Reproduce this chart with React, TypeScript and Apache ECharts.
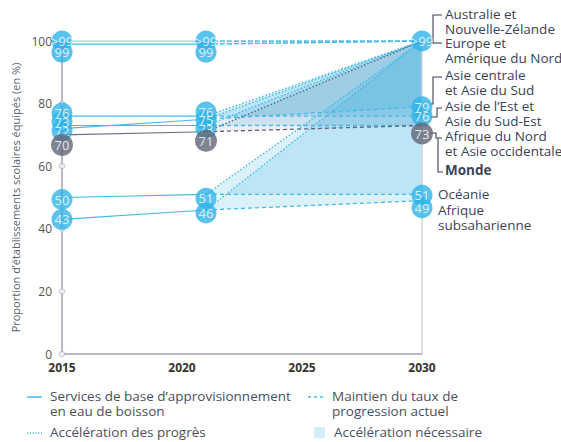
import React, { useEffect, useRef } from "react";
import * as echarts from "echarts";

const regions = [
  "Australie et Nouvelle-Zélande",
  "Europe et Amérique du Nord",
  "Asie centrale et Asie du Sud",
  "Asie de l'Est et Asie du Sud-Est",
  "Afrique du Nord et Asie occidentale",
  "Monde",
  "Océanie",
  "Afrique subsaharienne",
];
const yearStart = 2015;
const yearLatest = 2021;
const yearTarget = 2030;
const values2015 = [100, 99, 72, 76, 73, 70, 50, 43];
const values2021 = [100, 99, 75, 76, 73, 71, 51, 46];
const values2030Trend = [100, 100, 79, 76, 73, 73, 51, 49];
const target2030 = 100;
const labels2015 = [">99", "99", "72", "76", "73", "70", "50", "43"];
const labels2021 = [">99", "99", "75", "76", "73", "71", "51", "46"];
const labels2030 = [">99", "", "79", "76", "", "73", "51", "49"];
const isWorld = [false, false, false, false, false, true, false, false];
const xTicks = [2015, 2020, 2025, 2030];
const yTicks = [0, 20, 40, 60, 80];

// bubble nudges (pixels) to separate crowded bubbles, as in the original
const nudge2015 = [0, 8, 2, -3, -4, 10, 2, 0];
const nudge2021 = [0, 8, 1, -4, 3, 9, 4, 3];
const nudge2030 = [0, 0, 0, 0, 0, 8, 1, 7];

const BLUE = "#2fb3e8";
const LINE_BLUE = "#45b9e8";
const GRAY = "#5f6577";
const AXIS = "#b9b6c9";
const TEXT = "#3b4256";
const FONT = "'Open Sans', sans-serif";

export default function App() {
  const ref = useRef<HTMLDivElement>(null);
  useEffect(() => {
    const chart = echarts.init(ref.current!, null, { renderer: "svg" });
    const series: any[] = [];

    series.push({
      type: "custom",
      z: 1,
      silent: true,
      encode: { x: 0, y: 1 },
      data: regions.map((_, i) => [yearLatest, values2021[i], values2030Trend[i], i]),
      renderItem: (params: any, api: any) => {
        const i = api.value(3);
        const p1 = api.coord([yearLatest, api.value(1)]);
        const p2 = api.coord([yearTarget, api.value(2)]);
        const p3 = api.coord([yearTarget, target2030]);
        return {
          type: "polygon",
          shape: { points: [p1, p2, p3] },
          style: {
            fill: isWorld[i] ? "rgba(120,125,145,0.13)" : "rgba(41,171,226,0.17)",
          },
        };
      },
    });

    regions.forEach((name, i) => {
      const c = isWorld[i] ? GRAY : LINE_BLUE;
      series.push({
        type: "line",
        name: name + " actual",
        data: [
          [yearStart, values2015[i]],
          [yearLatest, values2021[i]],
        ],
        symbol: "none",
        z: isWorld[i] ? 4 : 3,
        lineStyle: { color: isWorld[i] ? "#6b7183" : LINE_BLUE, width: 1.2 },
        silent: true,
      });
      series.push({
        type: "line",
        name: name + " trend",
        data: [
          [yearLatest, values2021[i]],
          [yearTarget, values2030Trend[i]],
        ],
        symbol: "none",
        z: 3,
        lineStyle: { color: c, width: 1.3, type: [4, 3] },
        silent: true,
      });
      series.push({
        type: "line",
        name: name + " accel",
        data: [
          [yearLatest, values2021[i]],
          [yearTarget, target2030],
        ],
        symbol: "none",
        z: 3,
        lineStyle: { color: c, width: 1.4, type: [1.5, 2] },
        silent: true,
      });
    });

    const bubbleItems = (world: boolean) => {
      const out: any[] = [];
      regions.forEach((_, i) => {
        if (isWorld[i] !== world) return;
        const sets: [number, number, string, number][] = [
          [yearStart, values2015[i], labels2015[i], nudge2015[i]],
          [yearLatest, values2021[i], labels2021[i], nudge2021[i]],
          [yearTarget, values2030Trend[i], labels2030[i], nudge2030[i]],
        ];
        sets.forEach(([x, v, lab, n]) => {
          if (!lab) return;
          out.push({
            value: [x, v],
            symbolOffset: [0, n],
            label: { formatter: lab },
          });
        });
      });
      return out;
    };

    const bubbleLabel = {
      show: true,
      position: "inside",
      color: "#fff",
      fontSize: 13,
      fontFamily: FONT,
    };
    series.push({
      type: "scatter",
      z: 10,
      symbol: "circle",
      symbolSize: 21,
      itemStyle: { color: BLUE },
      label: bubbleLabel,
      data: bubbleItems(false),
      silent: true,
    });
    series.push({
      type: "scatter",
      z: 11,
      symbol: "circle",
      symbolSize: 22,
      itemStyle: { color: GRAY },
      label: bubbleLabel,
      data: bubbleItems(true),
      silent: true,
    });

    series.push({
      type: "scatter",
      z: 5,
      symbol: "circle",
      symbolSize: 5,
      itemStyle: { color: "#fff", borderColor: AXIS, borderWidth: 1.2 },
      data: yTicks.map((t) => [yearStart, t]),
      silent: true,
      markLine: {
        silent: true,
        symbol: "none",
        label: { show: false },
        lineStyle: { color: "#d3d3dc", width: 1.5, type: "solid" },
        data: [{ xAxis: yearTarget }],
      },
    });

    const lbl = (x: number, y: number, text: string, bold = false) => ({
      type: "text",
      x,
      y,
      style: {
        text,
        fill: TEXT,
        font: `${bold ? "bold " : ""}13.5px ${FONT}`,
        lineHeight: 14.5,
        verticalAlign: "top",
      },
    });
    const pl = (pts: number[][]) => ({
      type: "polyline",
      shape: { points: pts },
      style: { stroke: TEXT, lineWidth: 1.1, fill: null },
    });
    const legText = (x: number, y: number, text: string) => ({
      type: "text",
      x,
      y,
      style: {
        text,
        fill: "#4a4f60",
        font: `13.5px ${FONT}`,
        lineHeight: 15,
        verticalAlign: "top",
      },
    });

    const graphic: any[] = [
      pl([[442, 15], [433, 15], [433, 43]]),
      pl([[429, 43], [442, 43]]),
      pl([[442, 77], [433, 77], [433, 104], [430, 104]]),
      pl([[442, 108], [437, 108], [437, 117], [430, 117]]),
      pl([[430, 133], [436, 133], [436, 138], [442, 138]]),
      pl([[438, 138], [438, 172], [443, 172]]),
      lbl(445, 7, "Australie et\nNouvelle-Zélande"),
      lbl(445, 36, "Europe et\nAmérique du Nord"),
      lbl(445, 68, "Asie centrale\net Asie du Sud"),
      lbl(445, 99, "Asie de l’Est et\nAsie du Sud-Est"),
      lbl(445, 129, "Afrique du Nord\net Asie occidentale"),
      lbl(445, 163, "Monde", true),
      lbl(438, 187, "Océanie"),
      lbl(438, 203, "Afrique\nsubsaharienne"),
      {
        type: "line",
        shape: { x1: 27, y1: 397, x2: 42, y2: 397 },
        style: { stroke: LINE_BLUE, lineWidth: 1.5 },
      },
      legText(50, 388, "Services de base d’approvisionnement\nen eau de boisson"),
      {
        type: "line",
        shape: { x1: 308, y1: 397, x2: 326, y2: 397 },
        style: { stroke: LINE_BLUE, lineWidth: 1.5, lineDash: [3, 3] },
      },
      legText(332, 388, "Maintien du taux de\nprogression actuel"),
      {
        type: "line",
        shape: { x1: 27, y1: 433, x2: 42, y2: 433 },
        style: { stroke: LINE_BLUE, lineWidth: 1.5, lineDash: [1.2, 1.6] },
      },
      legText(50, 424, "Accélération des progrès"),
      {
        type: "rect",
        shape: { x: 314, y: 427, width: 11, height: 11 },
        style: { fill: "#d3ecf8" },
      },
      legText(334, 424, "Accélération nécessaire"),
    ];

    chart.setOption({
      animation: false,
      textStyle: { fontFamily: FONT },
      grid: { left: 62, right: 139, top: 41, bottom: 88 },
      xAxis: {
        type: "value",
        min: 2015,
        max: 2030,
        interval: 5,
        axisLine: { show: true, lineStyle: { color: AXIS, width: 2 } },
        axisTick: { show: false },
        splitLine: { show: false },
        axisLabel: {
          color: "#333",
          fontWeight: "bold",
          fontSize: 12,
          margin: 7,
          formatter: (v: number) => (xTicks.includes(v) ? String(v) : ""),
        },
      },
      yAxis: {
        type: "value",
        min: 0,
        max: 100,
        interval: 20,
        axisLine: { show: true, lineStyle: { color: AXIS, width: 2 } },
        axisTick: { show: false },
        splitLine: { show: false },
        axisLabel: { color: "#555", fontSize: 12, margin: 10 },
        name: "Proportion d’établissements scolaires équipés (en %)",
        nameLocation: "middle",
        nameGap: 38,
        nameTextStyle: { color: "#5a6070", fontSize: 11 },
      },
      series,
      graphic,
    });
    return () => chart.dispose();
  }, []);
  return <div ref={ref} style={{ width: 561, height: 442, position: "absolute", left: 0, top: 0 }} />;
}
